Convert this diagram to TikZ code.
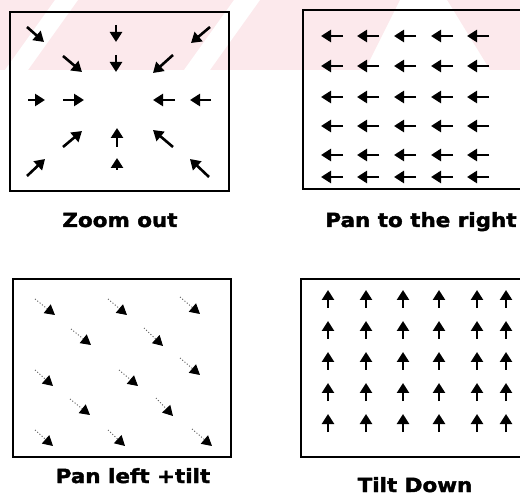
\documentclass[tikz,border=0pt]{standalone}
\usepackage{fontspec}
\newfontfamily\capfont[FakeStretch=1.1, FakeBold=2]{DejaVu Sans Bold}
\usetikzlibrary{arrows.meta}
\definecolor{markpink}{RGB}{252,233,236}

\begin{document}
\begin{tikzpicture}
  [x=1pt, y=-1pt,
   panel/.style={line width=1.8pt, draw=black},
   vec/.style={line width=2.6pt, -{Triangle[length=10pt,width=12pt]}},
   upvec/.style={line width=2.4pt, -{Triangle[length=10pt,width=12pt]}},
   trail/.style={line width=1pt, dotted, draw=black!60, -{Triangle[length=10pt,width=11pt,color=black,fill=black]}},
   caption/.style={anchor=base, font=\capfont\fontsize{19.5}{20}\selectfont}]

  \useasboundingbox (0,0) rectangle (520,497);
  \clip (0,0) rectangle (520,497);

  % faint band across the top
  \fill[markpink] (0,0) rectangle (520,70);
  \fill[white] (55,0) -- (78,0) -- (28,70) -- (5,70) -- cycle;
  \fill[white] (234,0) -- (260,0) -- (210,70) -- (184,70) -- cycle;
  \fill[white] (400,0) -- (447,0) -- (490,70) -- (365,70) -- cycle;

  % Frames
  \draw[panel] (10,12) rectangle (229,191);
  \draw[panel] (303,10) rectangle (530,189);
  \draw[panel] (13,279) rectangle (231,457);
  \draw[panel] (301,279) rectangle (530,457);

  % Zoom out: everything runs to the middle
  \foreach \xa/\ya/\xb/\yb in {27/27/44/42, 116/25/116/42, 210/27/191/43,
                               63/56/82/72, 116/55/116/72, 173/55/153/73,
                               28/100/45/100, 63/100/84/100, 175/100/153/100, 211/100/190/100,
                               63/147/82/131, 117/147/117/128, 173/147/153/130,
                               27/176/45/159, 117/170/117/158, 209/177/190/159}
    \draw[vec] (\xa,\ya) -- (\xb,\yb);

  % Pan to the right
  \foreach \y in {36,66,97,126,155,177}
    \foreach \x in {332,368,405,442,478}
      \draw[vec] (\x+11,\y) -- (\x-11,\y);

  % Pan left + tilt
  \foreach \xa/\ya/\xb/\yb in {35/299/55/315, 108/299/127/315, 180/297/200/314,
                               71/329/91/345, 144/328/163/346, 180/358/200/375,
                               35/370/53/386, 119/370/138/386,
                               70/399/90/415, 156/398/173/416,
                               35/430/53/446, 108/430/125/446, 192/429/212/446}
    \draw[trail] (\xa,\ya) -- (\xb,\yb);

  % Tilt down
  \foreach \x in {328,366,403,439,477,506}
    \foreach \y in {290,321,352,383,414}
      \draw[upvec] (\x,\y+18) -- (\x,\y);

  % Captions
  \node[caption] (zoom) at (120,227) {Zoom out};
  \node[caption] (pan) at (421,227) {Pan to the right};
  \node[caption] (pantilt) at (133,483) {Pan left +tilt};
  \node[caption] (tilt) at (415,492) {Tilt Down};
\end{tikzpicture}
\end{document}
